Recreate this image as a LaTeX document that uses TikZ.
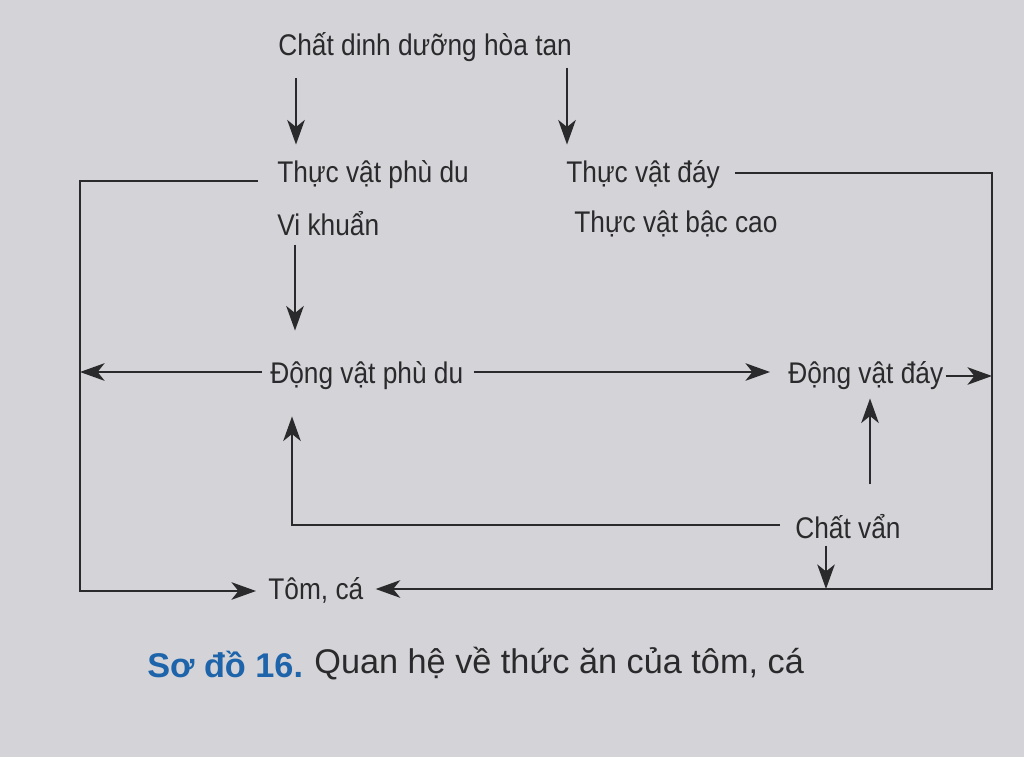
\documentclass[tikz,border=0pt]{standalone}
\usepackage{fontspec}
\setmainfont{Liberation Sans}
\newfontfamily\labfont[FakeStretch=0.88]{Liberation Sans}
\usetikzlibrary{arrows.meta,calc}
\definecolor{paper}{RGB}{212,212,216}
\definecolor{ink}{RGB}{42,42,44}
\definecolor{capblue}{RGB}{30,100,170}
\begin{document}
\begin{tikzpicture}[x=0.02cm,y=-0.02cm,
  lbl/.style={inner sep=0pt, anchor=west, text=ink, font=\labfont\fontsize{17}{19}\selectfont},
  ln/.style={draw=ink, line width=1.15pt},
  arr/.style={ln, -{Stealth[length=14pt,width=10pt,inset=4pt]}}]
\fill[paper] (0,0) rectangle (1024,757);
\useasboundingbox (0,0) rectangle (1024,757);
% corners
\coordinate (TL) at (80,181);
\coordinate (BL) at (80,591);
\coordinate (TR) at (992,173);
\coordinate (BR) at (992,589);
\coordinate (A1) at (296,0);
\coordinate (A2) at (567,0);
\coordinate (A3) at (295,0);
\coordinate (C2) at (292,0);
\coordinate (CU) at (870,0);
\coordinate (CVD) at (826,589);
% nodes
\node[lbl] (cd) at (278,47) {Chất dinh dưỡng hòa tan};
\node[lbl] (tvpd) at (277,175) {Thực vật phù du};
\node[lbl] (tvd) at (566,175) {Thực vật đáy};
\node[lbl] (vk) at (277,224) {Vi khuẩn};
\node[lbl] (tvbc) at (574,224) {Thực vật bậc cao};
\node[lbl] (dvpd) at (270,376) {Động vật phù du};
\node[lbl] (dvd) at (788,376) {Động vật đáy};
\node[lbl] (cv) at (795,527) {Chất vẩn};
\node[lbl] (tc) at (268,590) {Tôm, cá};
\node[inner sep=0pt, anchor=west, text=capblue, font=\bfseries\fontsize{19.5}{22}\selectfont] (capa) at (147,664) {Sơ đồ 16.};
\node[inner sep=0pt, anchor=west, text=ink, font=\fontsize{19.5}{22}\selectfont] (capb) at (314,664) {Quan hệ về thức ăn của tôm, cá};
% connectors
\draw[arr] ($(cd.south -| A1)+(0,16)$) -- ($(tvpd.north -| A1)+(0,-16)$);
\draw[arr] ($(cd.south -| A2)+(0,6)$) -- ($(tvd.north -| A2)+(0,-16)$);
\draw[arr] ($(vk.south -| A3)+(0,8)$) -- ($(dvpd.north -| A3)+(0,-31)$);
\draw[arr] ($(tvpd.west |- TL)+(-19,0)$) -- (TL) -- (BL) -- ($(tc.west |- BL)+(-12,0)$);
\draw[arr] ($(tvd.east |- TR)+(15,0)$) -- (TR) -- (BR) -- ($(tc.east |- BR)+(12,0)$);
\draw[arr] ($(dvpd.west)+(-8,-4)$) -- ($(dvpd.west -| TL)+(0,-4)$);
\draw[arr] ($(dvpd.east)+(10,-4)$) -- ($(dvd.west)+(-18,-4)$);
\draw[arr] ($(dvd.east)+(2,0)$) -- (dvd.east -| BR);
\draw[arr] ($(cv.north -| CU)+(0,-30)$) -- ($(dvd.south -| CU)+(0,8)$);
\draw[arr] ($(cv.west)+(-15,-2)$) -- ($(cv.west -| C2)+(0,-2)$) -- ($(dvpd.south -| C2)+(0,26)$);
\draw[arr] ($(cv.south -| CVD)+(0,6)$) -- (CVD);
\end{tikzpicture}
\end{document}
